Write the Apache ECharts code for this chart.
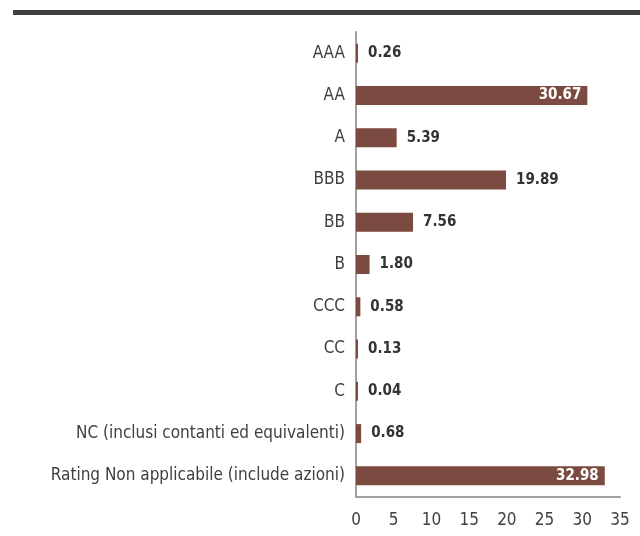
<!DOCTYPE html>
<html>
<head>
<meta charset="utf-8">
<script src="https://cdn.jsdelivr.net/npm/echarts@6/dist/echarts.min.js"></script>
<style>
html, body { margin: 0; padding: 0; background: #fff; }
#main { width: 640px; height: 536px; }
</style>
</head>
<body>
<div id="main"></div>
<script>
// categories, top to bottom as in the picture
var categories = ['AAA', 'AA', 'A', 'BBB', 'BB', 'B', 'CCC', 'CC', 'C',
	'NC (inclusi contanti ed equivalenti)', 'Rating Non applicabile (include azioni)']
var values = [0.26, 30.67, 5.39, 19.89, 7.56, 1.80, 0.58, 0.13, 0.04, 0.68, 32.98]
var xTicks = [0, 5, 10, 15, 20, 25, 30, 35]

var font = '"Liberation Sans Narrow", "DejaVu Sans Condensed", sans-serif'
var barColor = '#7b4a40'

// big bars get their label inside, in white
var seriesData = values.map(v => {
	var inside = v > 25
	return {
		value: v,
		label: {
			position: inside ? 'insideRight' : 'right',
			distance: inside ? 6 : 10,
			color: inside ? '#ffffff' : '#333333'
		}
	}
})

var chart = echarts.init(document.getElementById('main'))
chart.setOption({
	animation: false,
	textStyle: { fontFamily: font },
	graphic: [{
		type: 'rect',
		shape: { x: 13, y: 10, width: 627, height: 5 },
		style: { fill: '#404040' }
	}],
	grid: { left: 356, right: 20, top: 32, bottom: 39, containLabel: false },
	xAxis: {
		type: 'value',
		min: xTicks[0],
		max: xTicks[xTicks.length - 1],
		interval: 5,
		axisLine: { show: true, lineStyle: { color: '#a0a0a0', width: 2 } },
		axisTick: { show: false },
		splitLine: { show: false },
		axisLabel: { fontFamily: font, fontSize: 17, color: '#404040', margin: 15 }
	},
	yAxis: {
		type: 'category',
		inverse: true,
		data: categories,
		axisLine: { show: true, lineStyle: { color: '#a0a0a0', width: 2 } },
		axisTick: { show: false },
		axisLabel: { fontFamily: font, fontSize: 17, color: '#404040', margin: 11 }
	},
	series: [{
		type: 'bar',
		data: seriesData,
		barWidth: 19,
		barMinHeight: 2,
		itemStyle: { color: barColor },
		label: {
			show: true,
			fontFamily: font,
			fontSize: 15,
			fontWeight: 'bold',
			formatter: p => p.value.toFixed(2)
		}
	}]
})
</script>
</body>
</html>
